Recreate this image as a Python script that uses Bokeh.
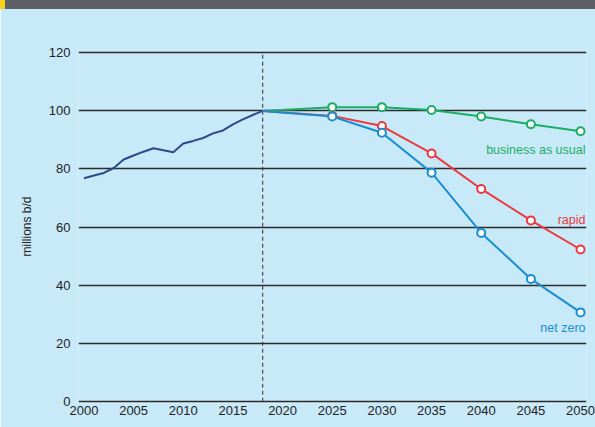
from bokeh.plotting import figure
from bokeh.models import FixedTicker, Label, Range1d
from bokeh.embed import file_html
from bokeh.resources import INLINE

# ---- data ----
hist_years = list(range(2000, 2019))
hist_values = [76.8, 77.7, 78.6, 80.3, 83.2, 84.6, 85.9, 87.1, 86.4, 85.7,
               88.7, 89.6, 90.6, 92.2, 93.2, 95.3, 97.0, 98.5, 99.9]

scen_years = [2018, 2025, 2030, 2035, 2040, 2045, 2050]
bau_values = [99.9, 101.2, 101.2, 100.2, 98.0, 95.3, 92.9]
rapid_values = [99.9, 98.2, 94.7, 85.3, 73.1, 62.3, 52.3]
netzero_values = [99.9, 98.0, 92.4, 78.7, 58.0, 42.2, 30.7]

x_ticks = [2000, 2005, 2010, 2015, 2020, 2025, 2030, 2035, 2040, 2045, 2050]
y_ticks = [0, 20, 40, 60, 80, 100, 120]

BG = "#c8e9f8"
FONT = "Liberation Sans"
C_HIST = "#2a4b8d"
C_BAU = "#1aad63"
C_RAPID = "#ee3840"
C_NZ = "#1b8ed1"

HEADER_CSS = (
    ":host { position: relative; }\n"
    ":host::before { content: ''; position: absolute; left: 0; top: 0; "
    "width: 595px; height: 9px; z-index: 100; "
    "background: linear-gradient(to right, #f7d117 0px, #f7d117 5px, #5c5f63 5px, #5c5f63 100%); }\n"
)

p = figure(width=595, height=427, output_backend="svg", toolbar_location=None,
           x_range=Range1d(1999.45, 2050.6), y_range=Range1d(-0.6, 121.0),
           min_border_left=78, min_border_right=9, min_border_top=49,
           min_border_bottom=24, stylesheets=[HEADER_CSS])
p.background_fill_color = BG
p.border_fill_color = BG
p.outline_line_color = None

# grid
p.xgrid.grid_line_color = None
p.ygrid.ticker = FixedTicker(ticks=y_ticks)
p.ygrid.grid_line_color = "#2b2b2b"
p.ygrid.grid_line_width = 1.3

# axes
p.xaxis.ticker = FixedTicker(ticks=x_ticks)
p.yaxis.ticker = FixedTicker(ticks=y_ticks)
for ax in (p.xaxis, p.yaxis):
    ax.axis_line_color = None
    ax.major_tick_line_color = None
    ax.minor_tick_line_color = None
    ax.major_tick_out = 0
    ax.major_tick_in = 0
    ax.major_label_text_font = FONT
    ax.major_label_text_font_size = "13px"
    ax.major_label_text_color = "#222222"
p.xaxis.major_label_standoff = 2
p.yaxis.major_label_standoff = 8
p.yaxis.axis_label = "millions b/d"
p.yaxis.axis_label_text_font = FONT
p.yaxis.axis_label_text_font_size = "12px"
p.yaxis.axis_label_text_font_style = "normal"
p.yaxis.axis_label_text_color = "#222222"
p.yaxis.axis_label_standoff = 12

# dashed divider at last historical year
p.segment(x0=[hist_years[-1]], y0=[0], x1=[hist_years[-1]], y1=[max(y_ticks)],
          line_color="#333333", line_width=1, line_dash="4 3")

# history
p.line(hist_years, hist_values, line_color=C_HIST, line_width=2)

# scenarios
for vals, col in ((bau_values, C_BAU), (rapid_values, C_RAPID), (netzero_values, C_NZ)):
    p.line(scen_years, vals, line_color=col, line_width=2)
    p.scatter(scen_years[1:], vals[1:], size=8, marker="circle",
              fill_color="white", line_color=col, line_width=2)

# series labels
labels = [("business as usual", bau_values[-1] - 6.3, C_BAU),
          ("rapid", rapid_values[-1] + 10.3, C_RAPID),
          ("net zero", netzero_values[-1] - 5.3, C_NZ)]
for txt, yv, col in labels:
    p.add_layout(Label(x=scen_years[-1] + 0.5, y=yv, text=txt, text_color=col,
                       text_font=FONT, text_font_size="12.5px",
                       text_align="right", text_baseline="middle"))

open("out.html", "w").write(file_html(p, INLINE))
